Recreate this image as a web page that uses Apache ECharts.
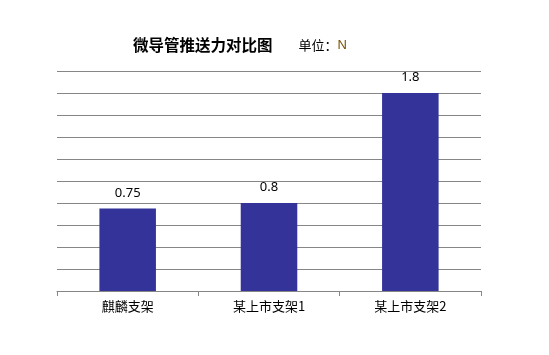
<!DOCTYPE html>
<html>
<head>
<meta charset="utf-8">
<script src="https://cdn.jsdelivr.net/npm/echarts@6/dist/echarts.min.js"></script>
<style>
  html, body { margin: 0; padding: 0; background: #fff; }
  #chart { width: 549px; height: 355px; }
</style>
</head>
<body>
<div id="chart"></div>
<script>
// 数据
const categories = ["麒麟支架", "某上市支架1", "某上市支架2"];
const forceValues = [0.75, 0.8, 1.8];

const chart = echarts.init(document.getElementById("chart"));
const option = {
  backgroundColor: "#fff",
  textStyle: { fontFamily: "Noto Sans CJK SC" },
  title: {
    text: "{t|微导管推送力对比图}{gap|}{u|单位：}{n|N}",
    left: 128,
    top: 31,
    textStyle: {
      rich: {
        t: { fontSize: 15.5, fontWeight: "bold", color: "#000", fontFamily: "Noto Sans CJK SC" },
        gap: { width: 26 },
        u: { fontSize: 13, fontWeight: "normal", color: "#000", fontFamily: "Noto Sans CJK SC" },
        n: { fontSize: 13, fontWeight: "normal", color: "#7a4f00", fontFamily: "Liberation Sans" },
      },
    },
  },
  grid: { left: 57, right: 68, top: 71, bottom: 64, containLabel: false },
  xAxis: {
    type: "category",
    data: categories,
    axisLine: { lineStyle: { color: "#868686", width: 1 } },
    axisTick: { show: true, length: 5, lineStyle: { color: "#868686" } },
    axisLabel: { color: "#000", fontSize: 13, margin: 9 },
  },
  yAxis: {
    type: "value",
    min: 0,
    max: 2,
    interval: 0.2,
    axisLabel: { show: false },
    axisLine: { show: false },
    axisTick: { show: false },
    splitLine: { lineStyle: { color: "#868686", width: 1 } },
  },
  series: [
    {
      type: "bar",
      data: forceValues,
      barWidth: "40%",
      itemStyle: { color: "#333399" },
      label: {
        show: true,
        position: "top",
        distance: 9,
        color: "#000",
        fontSize: 13,
        fontFamily: "Noto Sans",
      },
    },
  ],
};
chart.setOption(option);
</script>
</body>
</html>
